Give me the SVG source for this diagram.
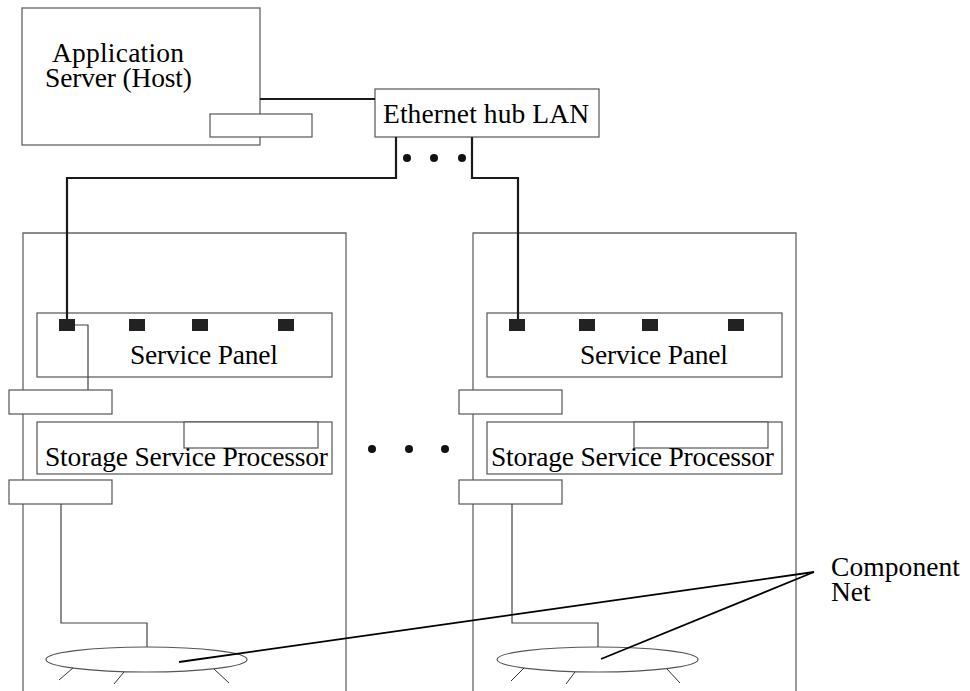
<svg xmlns="http://www.w3.org/2000/svg" width="970" height="691" viewBox="0 0 970 691">
<style>
.box{fill:#fff;stroke:#555;stroke-width:1.2}
.ell{fill:none;stroke:#555;stroke-width:1.2}
.rack{fill:none;stroke:#666;stroke-width:1.3}
.thin{fill:none;stroke:#444;stroke-width:1.2}
.thick{fill:none;stroke:#1a1a1a;stroke-width:2.2}
.lead{fill:none;stroke:#000;stroke-width:1.8}
.port{fill:#222}
.dot{fill:#111}
.t{font-family:"Liberation Serif","Times New Roman",serif;font-size:27.5px;fill:#000}
.tick{stroke:#333;stroke-width:1}
</style>
<rect width="970" height="691" fill="#fff"/>

<g id="racks">
<path class="rack" d="M23,691 V233 H346 V691"/>
<path class="rack" d="M473,691 V233 H796 V691"/>
</g>

<g id="host">
<rect class="box" x="22" y="8" width="238" height="137"/>
<text class="t" x="52" y="62" textLength="132">Application</text>
<text class="t" x="45" y="87" textLength="147">Server (Host)</text>
<rect class="box" x="210" y="114" width="102" height="23"/>
</g>

<g id="hub">
<rect class="box" x="375" y="89" width="224" height="48"/>
<text class="t" x="383" y="123" textLength="206">Ethernet hub LAN</text>
</g>

<g id="dots">
<circle class="dot" cx="407" cy="158" r="4"/>
<circle class="dot" cx="434" cy="158" r="4"/>
<circle class="dot" cx="462" cy="158" r="4"/>
<circle class="dot" cx="372" cy="449" r="4"/>
<circle class="dot" cx="409" cy="449" r="4"/>
<circle class="dot" cx="445" cy="449" r="4"/>
</g>

<g id="left-service-panel">
<rect class="box" x="37" y="313" width="295" height="64"/>
<rect class="port" x="59" y="319" width="16" height="12"/>
<rect class="port" x="129" y="319" width="16" height="12"/>
<rect class="port" x="192" y="319" width="16" height="12"/>
<rect class="port" x="278" y="319" width="16" height="12"/>
<text class="t" x="130" y="364" textLength="148">Service Panel</text>
</g>
<g id="left-ssp">
<rect class="box" x="9" y="390" width="103" height="24"/>
<rect class="box" x="37" y="422" width="295" height="52"/>
<rect class="box" x="184" y="422" width="134" height="26"/>
<text class="t" x="45" y="466" textLength="283">Storage Service Processor</text>
<rect class="box" x="9" y="480" width="103" height="24"/>
</g>
<g id="left-net">
<ellipse class="ell" cx="146.5" cy="659.5" rx="100.5" ry="12.5"/>
<line class="tick" x1="73" y1="668" x2="59" y2="680"/>
<line class="tick" x1="124" y1="672" x2="114" y2="684"/>
<line class="tick" x1="214" y1="669" x2="229" y2="683"/>
</g>

<g id="right-service-panel">
<rect class="box" x="487" y="313" width="295" height="64"/>
<rect class="port" x="509" y="319" width="16" height="12"/>
<rect class="port" x="579" y="319" width="16" height="12"/>
<rect class="port" x="642" y="319" width="16" height="12"/>
<rect class="port" x="728" y="319" width="16" height="12"/>
<text class="t" x="580" y="364" textLength="148">Service Panel</text>
</g>
<g id="right-ssp">
<rect class="box" x="459" y="390" width="103" height="24"/>
<rect class="box" x="487" y="422" width="295" height="52"/>
<rect class="box" x="634" y="422" width="134" height="26"/>
<text class="t" x="491" y="466" textLength="283">Storage Service Processor</text>
<rect class="box" x="459" y="480" width="103" height="24"/>
</g>
<g id="right-net">
<ellipse class="ell" cx="597.5" cy="659.5" rx="100.5" ry="12.5"/>
<line class="tick" x1="524" y1="668" x2="511" y2="681"/>
<line class="tick" x1="575" y1="672" x2="566" y2="684"/>
<line class="tick" x1="667" y1="669" x2="680" y2="683"/>
</g>

<g id="connectors">
<path class="thick" d="M260,99 H375"/>
<path class="thick" d="M396,137 V178 H67 V319"/>
<path class="thick" d="M472,137 V178 H518 V319"/>
<path class="thin" d="M75,325 H88 V390"/>
<path class="thin" d="M61,504 V623 H147 V647"/>
<path class="thin" d="M512,504 V623 H598 V647"/>
<path class="lead" d="M179,662 L814,572"/>
<path class="lead" d="M601,659 L814,572"/>
</g>

<g id="label-component-net">
<text class="t" x="831" y="576" textLength="129">Component</text>
<text class="t" x="831" y="601">Net</text>
</g>
</svg>
